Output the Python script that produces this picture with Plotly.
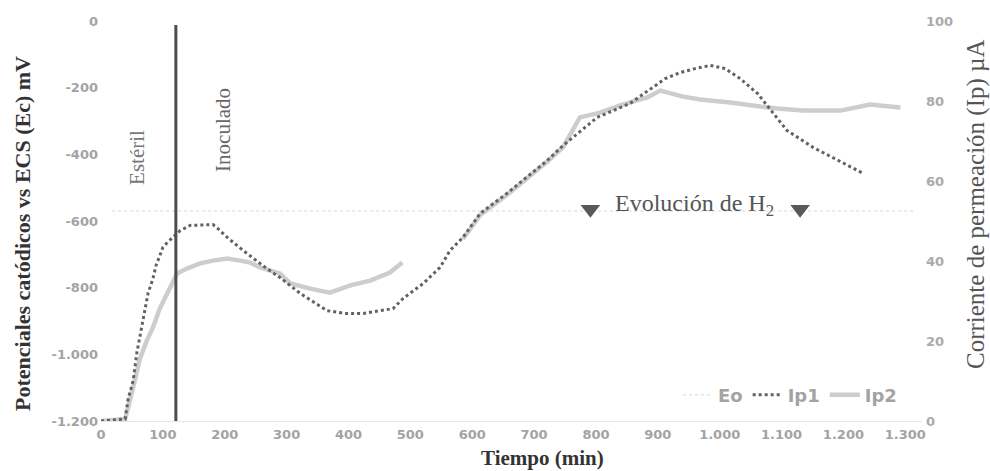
import plotly.graph_objects as go

# ---- data ----
ip1_t = [0, 39, 44, 52, 58, 66, 71, 76, 84, 89, 94, 100, 107, 128, 144, 181, 189, 204, 230, 268, 289,
         322, 365, 395, 424, 472, 488, 521, 548, 564, 585, 613, 656, 721, 747, 779, 802, 855, 892, 912,
         936, 960, 985, 1009, 1033, 1049, 1061, 1109, 1135, 1151, 1232]
ip1_v = [0, 0.5, 5.6, 10.1, 17.1, 23.9, 27.6, 31.9, 35.6, 38.9, 40.9, 43.4, 44.6, 47.6, 48.9, 49.1, 48.1,
         45.9, 42.6, 38.1, 35.9, 31.9, 27.6, 26.9, 26.9, 28.1, 30.6, 34.4, 38.4, 42.6, 45.9, 51.9, 56.9,
         65.1, 68.9, 73.1, 75.9, 79.4, 83.4, 85.6, 87.1, 88.1, 88.9, 88.1, 85.6, 83.4, 81.9, 72.6, 70.1,
         68.4, 61.9]

ip2_t = [0, 39, 52, 63, 74, 84, 95, 107, 116, 123, 139, 160, 181, 204, 225, 241, 257, 273, 289, 306, 338,
         370, 403, 435, 467, 487, None, 585, 613, 656, 721, 747, 774, 807, 839, 883, 904, 941, 968, 1017,
         1077, 1093, 1135, 1195, 1243, 1292]
ip2_v = [0, 0.5, 8.4, 15.6, 20.1, 23.4, 28.1, 31.9, 34.4, 36.9, 38.1, 39.4, 40.1, 40.6, 40.1, 39.6, 38.4,
         37.6, 36.9, 34.4, 33.1, 32.1, 33.9, 35.1, 37.1, 39.6, None, 45.5, 51.5, 56.5, 64.8, 68.5, 75.9,
         77.1, 78.9, 80.9, 82.6, 81.1, 80.4, 79.6, 78.4, 78.1, 77.6, 77.6, 79.1, 78.4]

eo_t = [18, 1313]
eo_v = [-570, -570]

h2_marker_t = [791, 1130]
h2_marker_v = [-565, -565]

inoculation_t = 121

x_ticks = [0, 100, 200, 300, 400, 500, 600, 700, 800, 900, 1000, 1100, 1200, 1300]
x_tick_text = ["0", "100", "200", "300", "400", "500", "600", "700", "800", "900",
               "1.000", "1.100", "1.200", "1.300"]
left_ticks = [0, -200, -400, -600, -800, -1000, -1200]
left_tick_text = ["0", "-200", "-400", "-600", "-800", "-1.000", "-1.200"]
right_ticks = [0, 20, 40, 60, 80, 100]
right_tick_text = ["0", "20", "40", "60", "80", "100"]

# ---- figure ----
L, R, T, B = 101, 68, 21, 50
W, H = 990, 471
pw, ph = W - L - R, H - T - B


def px(xp):
    return (xp - L) / pw


def py(yp):
    return (H - B - yp) / ph


tickfont = dict(family="DejaVu Sans", size=13, color="#a3a3a3", weight="bold")
serif = "Liberation Serif"

fig = go.Figure()

fig.add_trace(go.Scatter(x=eo_t, y=eo_v, name="Eo", mode="lines", legendrank=1,
                         line=dict(color="#e4e4e4", width=1.5, dash="dot"), yaxis="y"))
fig.add_trace(go.Scatter(x=ip2_t, y=ip2_v, name="Ip2", mode="lines", legendrank=3,
                         line=dict(color="#cdcdcd", width=4.5), yaxis="y2", connectgaps=False))
fig.add_trace(go.Scatter(x=ip1_t, y=ip1_v, name="Ip1", mode="lines", legendrank=2,
                         line=dict(color="#626262", width=3, dash="dot"), yaxis="y2"))
fig.add_trace(go.Scatter(x=h2_marker_t, y=h2_marker_v, mode="markers", showlegend=False,
                         marker=dict(symbol="triangle-down", size=17, color="#595959"), yaxis="y"))

fig.add_shape(type="line", xref="x", yref="y", x0=inoculation_t, x1=inoculation_t, y0=-12, y1=-1200,
              line=dict(color="#4d4d4d", width=3))

annotations = [
    dict(text="Estéril", x=57, y=-410, xref="x", yref="y", textangle=-90, showarrow=False,
         xanchor="center", yanchor="middle",
         font=dict(family=serif, size=21, color="#777777")),
    dict(text="Inoculado", x=196, y=-326, xref="x", yref="y", textangle=-90, showarrow=False,
         xanchor="center", yanchor="middle",
         font=dict(family=serif, size=21, color="#666666")),
    dict(text="Evolución de H<sub>2</sub>", x=959, y=-553, xref="x", yref="y", showarrow=False,
         xanchor="center", yanchor="middle",
         font=dict(family=serif, size=24, color="#555555")),
    dict(text="<b>Potenciales catódicos vs ECS (Ec) mV</b>", x=px(22), y=py(234), xref="paper",
         yref="paper", textangle=-90, showarrow=False, xanchor="center", yanchor="middle",
         font=dict(family=serif, size=22, color="#333333")),
    dict(text="Corriente de permeación (Ip) µA", x=px(976), y=py(204), xref="paper",
         yref="paper", textangle=-90, showarrow=False, xanchor="center", yanchor="middle",
         font=dict(family=serif, size=25, color="#555555")),
    dict(text="<b>Tiempo (min)</b>", x=px(542), y=py(458), xref="paper", yref="paper",
         showarrow=False, xanchor="center", yanchor="middle",
         font=dict(family=serif, size=21, color="#333333")),
]

fig.update_layout(
    width=W, height=H,
    margin=dict(l=L, r=R, t=T, b=B, autoexpand=False),
    paper_bgcolor="white", plot_bgcolor="white",
    annotations=annotations,
    showlegend=True,
    legend=dict(orientation="h", x=px(902), xanchor="right", y=py(395), yanchor="middle",
                bgcolor="rgba(0,0,0,0)", font=dict(family="DejaVu Sans", size=18, color="#a3a3a3",
                                                  weight="bold")),
    xaxis=dict(range=[0, 1327], tickvals=x_ticks, ticktext=x_tick_text, showgrid=False,
               zeroline=False, showline=True, linecolor="#e6e6e6", linewidth=1, tickfont=tickfont,
               ticklabelstandoff=1, automargin=False),
    yaxis=dict(range=[-1200, 0], tickvals=left_ticks, ticktext=left_tick_text, showgrid=False,
               zeroline=False, showline=False, tickfont=tickfont, ticklabelstandoff=2,
               automargin=False),
    yaxis2=dict(range=[0, 100], overlaying="y", side="right", tickvals=right_ticks,
                ticktext=right_tick_text, showgrid=False, zeroline=False, showline=False,
                tickfont=dict(family="DejaVu Sans", size=13, color="#aaaaaa", weight="bold"),
                ticklabelstandoff=3, automargin=False),
)

fig.write_html("out.html", post_script="document.body.style.margin='0';",
               config={"displayModeBar": False})
